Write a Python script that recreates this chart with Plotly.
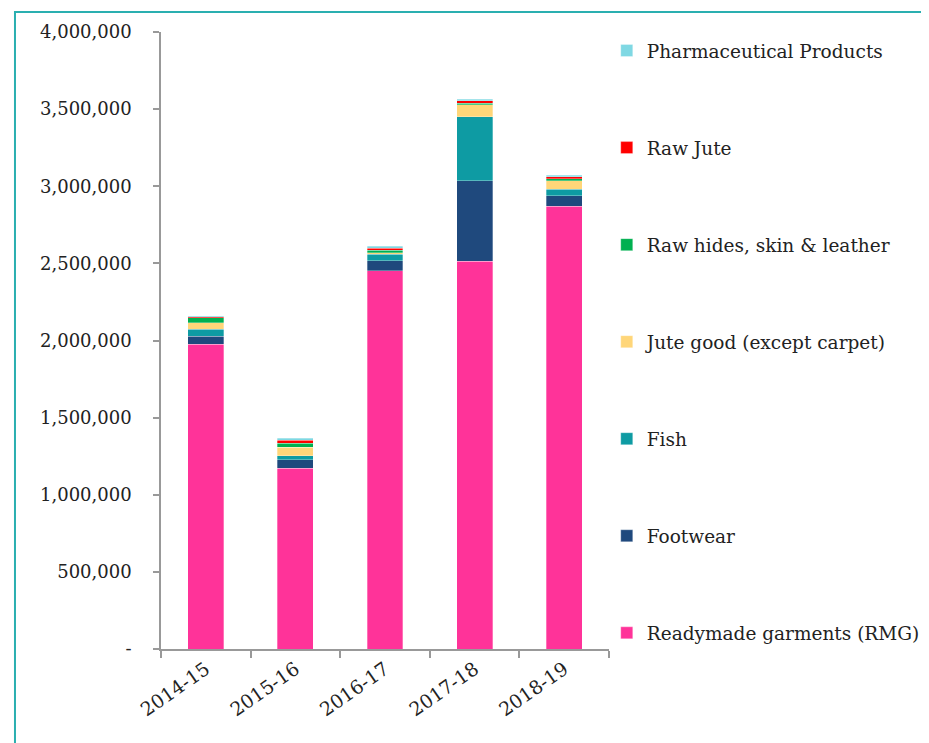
import plotly.graph_objects as go

years = ["2014-15", "2015-16", "2016-17", "2017-18", "2018-19"]

rmg = [1977000, 1171500, 2450600, 2515000, 2870000]
footwear = [52000, 56000, 65000, 521000, 69000]
fish = [43000, 26000, 45000, 415000, 43000]
jute_good = [43000, 56000, 9000, 76000, 54000]
raw_hides = [32000, 24000, 17000, 11000, 13000]
raw_jute = [6000, 21000, 11000, 15000, 11000]
pharma = [9000, 11000, 15000, 11000, 11000]

series = [
    ("Readymade garments (RMG)", rmg, "#FF3399"),
    ("Footwear", footwear, "#1F497D"),
    ("Fish", fish, "#0E9BA3"),
    ("Jute good (except carpet)", jute_good, "#FFD679"),
    ("Raw hides, skin & leather", raw_hides, "#00B050"),
    ("Raw Jute", raw_jute, "#FF0000"),
    ("Pharmaceutical Products", pharma, "#7FD8E3"),
]

yticks = [0, 500000, 1000000, 1500000, 2000000, 2500000, 3000000, 3500000, 4000000]
ytick_labels = ["-", "500,000", "1,000,000", "1,500,000", "2,000,000",
                "2,500,000", "3,000,000", "3,500,000", "4,000,000"]

FONT = "DejaVu Serif"

L, T = 153, 24
PW, PH = 451, 617

fig = go.Figure()
n = len(series)
for i, (name, vals, color) in enumerate(series):
    fig.add_trace(go.Bar(
        x=years, y=vals, name=name, legendgroup=str(i), legendrank=n - i,
        marker=dict(color=color, line=dict(color="rgba(255,255,255,0.6)", width=0.5)),
        width=0.4,
    ))

fig.update_layout(
    barmode="stack",
    width=929, height=743,
    margin=dict(l=L, r=929 - L - PW, t=T, b=743 - T - PH),
    paper_bgcolor="white", plot_bgcolor="white",
    font=dict(family=FONT, size=18, color="#222222"),
    showlegend=True,
    legend=dict(
        x=0.995, y=1.0, xanchor="left", yanchor="top",
        traceorder="grouped", tracegroupgap=70,
        font=dict(family=FONT, size=18.5, color="#222222"),
        itemwidth=30, bgcolor="rgba(0,0,0,0)",
    ),
    xaxis=dict(
        showline=True, linecolor="#999999", linewidth=1.5,
        ticks="outside", ticklen=7, tickcolor="#999999", tickwidth=1.5,
        tickson="boundaries", tickangle=-35,
        tickfont=dict(family=FONT, size=19, color="#222222"),
        showgrid=False,
    ),
    yaxis=dict(
        range=[0, 4000000], tickvals=yticks, ticktext=ytick_labels,
        showline=True, linecolor="#999999", linewidth=1.5,
        ticks="outside", ticklen=6, tickcolor="#999999", tickwidth=1.5,
        ticklabelstandoff=18,
        tickfont=dict(family=FONT, size=18, color="#222222"),
        showgrid=False, zeroline=False,
    ),
    shapes=[dict(
        type="rect", xref="paper", yref="paper",
        x0=(6 - L) / PW, x1=2.0, y0=-1.0, y1=(T + PH - 4) / PH,
        line=dict(color="#2AAFB0", width=2), fillcolor="rgba(0,0,0,0)", layer="below",
    )],
)

fig.write_html("out.html")
